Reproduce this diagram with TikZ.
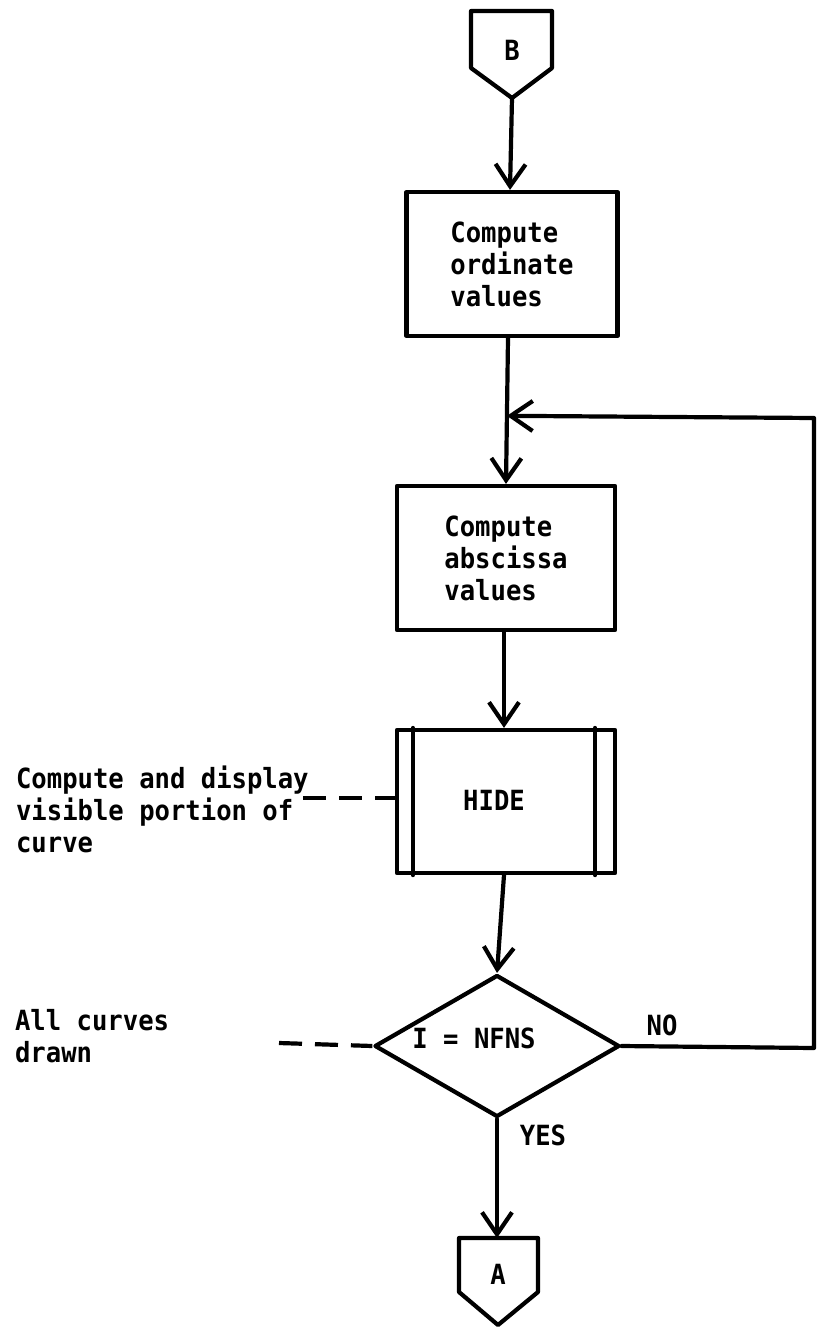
\documentclass[tikz,border=0pt]{standalone}
\usepackage{fontspec}
\newfontfamily\mono[FakeStretch=0.92]{DejaVu Sans Mono}
\usetikzlibrary{arrows.meta,shapes.geometric,calc}
\begin{document}
\begin{tikzpicture}[x=1pt,y=-1pt,
  line width=4.2pt, line join=round, line cap=round,
  every node/.style={font=\mono\bfseries\fontsize{27.8}{32}\selectfont, inner sep=0pt},
  box/.style={draw, line width=4.2pt, align=left},
  arr/.style={-{Straight Barb[length=22pt,width=30pt]}},
  dashline/.style={line cap=butt, dash pattern=on 23pt off 13pt},
  ann/.style={align=left, anchor=west}
]
\useasboundingbox (0,0) rectangle (822,1330);

% off-page connector B
\node (B) at (512,50) {B};
\draw (471,11) -- (552,11) -- (552,68) -- (512,98) -- (471,68) -- cycle;
\coordinate (Bp) at (512,98);

% process boxes
\node[box, minimum width=211, minimum height=144] (c1) at (512,264) {Compute\\ordinate\\values};
\node[box, minimum width=218, minimum height=144] (c2) at (506,558) {Compute\\abscissa\\values};
\node[draw, minimum width=218, minimum height=143] (hide) at (506,801.5) {};
\node (hidetext) at (494,800) {HIDE};
\draw ([xshift=18pt]hide.north west) -- ([xshift=18pt]hide.south west);
\draw ([xshift=-22pt]hide.north east) -- ([xshift=-22pt]hide.south east);

% decision
\node[draw, diamond, minimum width=245, minimum height=142] (d) at (497,1046) {};
\node (dtext) at (474,1038) {I = NFNS};

% off-page connector A
\node (A) at (498,1274) {A};
\draw (459,1238) -- (538,1238) -- (538,1292) -- (498,1325) -- (459,1292) -- cycle;
\coordinate (At) at (497,1238);

% connectors
\draw[arr] (Bp) -- ([xshift=-2pt]c1.north);
\draw[arr] ([xshift=-4pt]c1.south) -- (c2.north);
\coordinate (J) at ($([xshift=-4pt]c1.south)!0.533!(c2.north)$);
\draw[arr] ([xshift=-2pt]c2.south) -- ([xshift=-2pt]hide.north);
\draw[arr] ([xshift=-2pt]hide.south) -- (d.north);
\draw[arr] (d.south) -- (At);
\coordinate (r1) at (814,1048);
\coordinate (r2) at (814,418);
\draw[arr] (d.east) -- (r1) -- (r2) -- (J);

\node (no) at (662,1025) {NO};
\node (yes) at (543,1135) {YES};

% annotations
\node[ann] (t1) at (14,809) {Compute and display\\visible portion of\\curve};
\coordinate (e1) at (303,798);
\draw[dashline] (e1) -- (e1 -| hide.west);
\node[ann] (t2) at (13,1036) {All curves\\drawn};
\coordinate (e2) at (279,1043);
\draw[dashline] (e2) -- (d.west);
\end{tikzpicture}
\end{document}
